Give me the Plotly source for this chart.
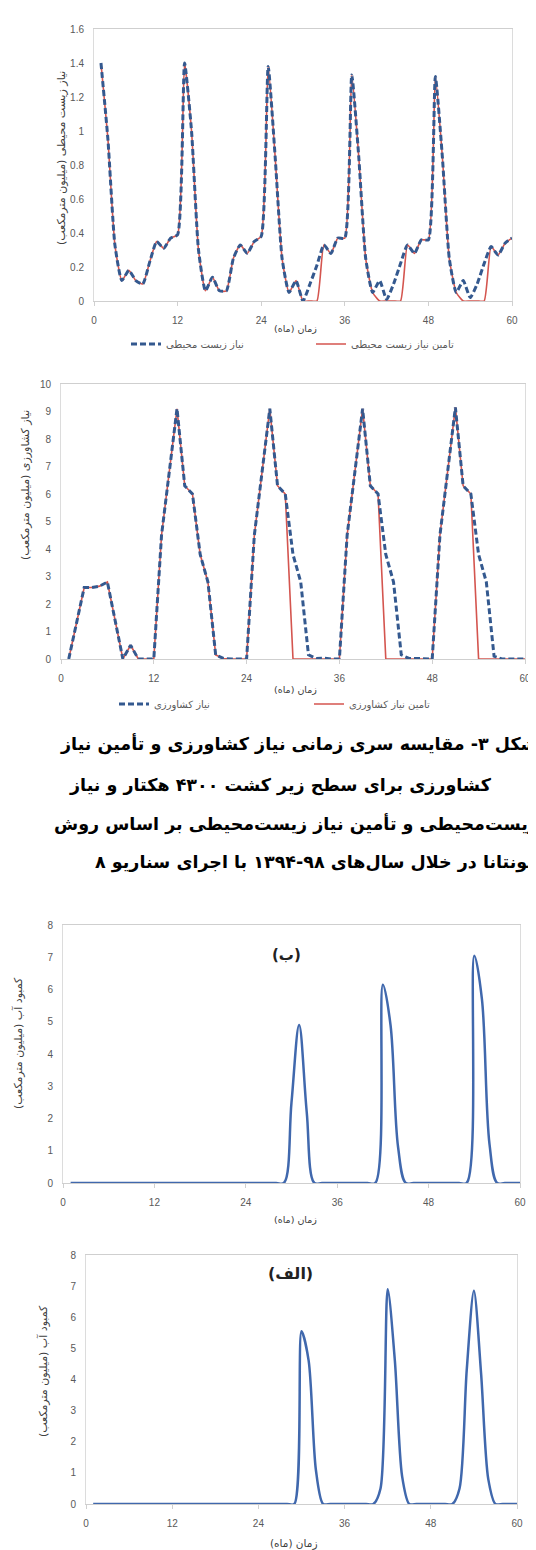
import plotly.graph_objects as go

W, H = 536, 1550

def px(x):
    return x / W

def py(y):
    return 1 - y / H

months = list(range(1, 61))

env_demand = [
    1.40, 0.95, 0.33, 0.12, 0.18, 0.12, 0.10, 0.23, 0.35, 0.31, 0.37, 0.39,
    1.40, 1.00, 0.30, 0.06, 0.14, 0.06, 0.06, 0.25, 0.33, 0.28, 0.35, 0.38,
    1.38, 0.85, 0.25, 0.05, 0.12, 0.00, 0.10, 0.21, 0.33, 0.28, 0.37, 0.37,
    1.33, 0.85, 0.25, 0.05, 0.12, 0.01, 0.10, 0.22, 0.33, 0.28, 0.36, 0.36,
    1.32, 0.85, 0.25, 0.05, 0.12, 0.02, 0.10, 0.22, 0.32, 0.27, 0.34, 0.37,
]
env_supply = [
    1.40, 0.95, 0.33, 0.12, 0.18, 0.12, 0.10, 0.23, 0.35, 0.31, 0.37, 0.39,
    1.40, 1.00, 0.30, 0.06, 0.14, 0.06, 0.06, 0.25, 0.33, 0.28, 0.35, 0.38,
    1.38, 0.85, 0.25, 0.05, 0.12, 0.00, 0.00, 0.00, 0.33, 0.28, 0.37, 0.37,
    1.33, 0.85, 0.25, 0.05, 0.00, 0.00, 0.00, 0.00, 0.33, 0.28, 0.36, 0.36,
    1.32, 0.85, 0.25, 0.05, 0.00, 0.00, 0.00, 0.00, 0.32, 0.27, 0.34, 0.37,
]
agri_demand = [
    0.0, 1.3, 2.6, 2.6, 2.65, 2.8, 1.4, 0.0, 0.5, 0.0, 0.0, 0.0,
    4.5, 6.8, 9.1, 6.3, 6.0, 3.8, 2.8, 0.15, 0.02, 0.0, 0.0, 0.0,
    4.5, 6.8, 9.1, 6.3, 6.0, 3.8, 2.8, 0.15, 0.02, 0.03, 0.0, 0.0,
    4.5, 6.8, 9.1, 6.3, 6.0, 3.8, 2.8, 0.15, 0.02, 0.02, 0.0, 0.0,
    4.5, 6.8, 9.15, 6.3, 6.0, 3.8, 2.8, 0.1, 0.0, 0.0, 0.0, 0.0,
]
agri_supply = [
    0.0, 1.3, 2.6, 2.6, 2.65, 2.8, 1.4, 0.0, 0.5, 0.0, 0.0, 0.0,
    4.5, 6.8, 9.1, 6.3, 6.0, 3.8, 2.8, 0.15, 0.02, 0.0, 0.0, 0.0,
    4.5, 6.8, 9.1, 6.3, 6.0, 0.0, 0.0, 0.0, 0.0, 0.0, 0.0, 0.0,
    4.5, 6.8, 9.1, 6.3, 6.0, 0.0, 0.0, 0.0, 0.0, 0.0, 0.0, 0.0,
    4.5, 6.8, 9.15, 6.3, 6.0, 0.0, 0.0, 0.0, 0.0, 0.0, 0.0, 0.0,
]
deficit_b = [
    0, 0, 0, 0, 0, 0, 0, 0, 0, 0, 0, 0,
    0, 0, 0, 0, 0, 0, 0, 0, 0, 0, 0, 0,
    0, 0, 0, 0, 0, 2.5, 4.9, 2.2, 0, 0, 0, 0,
    0, 0, 0, 0, 0, 6.15, 4.9, 1.1, 0, 0, 0, 0,
    0, 0, 0, 0, 0, 7.05, 5.7, 1.2, 0, 0, 0, 0,
]
deficit_a = [
    0, 0, 0, 0, 0, 0, 0, 0, 0, 0, 0, 0,
    0, 0, 0, 0, 0, 0, 0, 0, 0, 0, 0, 0,
    0, 0, 0, 0, 0, 5.55, 4.6, 1.1, 0, 0, 0, 0,
    0, 0, 0, 0, 0.5, 6.9, 4.6, 0.9, 0, 0, 0, 0,
    0, 0, 0, 0.5, 4.3, 6.85, 4.2, 0.8, 0, 0, 0, 0,
]

x_ticks = [0, 12, 24, 36, 48, 60]
x_title = "زمان (ماه)"
env_names = ["نیاز زیست محیطی", "تامین نیاز زیست محیطی"]
agri_names = ["نیاز کشاورزی", "تامین نیاز کشاورزی"]
y_titles = [
    "نیاز زیست محیطی (میلیون مترمکعب)",
    "نیاز کشاورزی (میلیون مترمکعب)",
    "کمبود آب (میلیون مترمکعب)",
    "کمبود آب (میلیون مترمکعب)",
]
panel_labels = ["(ب)", "(الف)"]
caption_lines = [
    "شکل ۳- مقایسه سری زمانی نیاز کشاورزی و تأمین نیاز",
    "کشاورزی برای سطح زیر کشت ۴۳۰۰ هکتار و نیاز",
    "زیست‌محیطی و تأمین نیاز زیست‌محیطی بر اساس روش",
    "مونتانا در خلال سال‌های ۹۸-۱۳۹۴ با اجرای سناریو ۸",
]

BLUE_D = "#34598f"
RED = "#d4554f"
BLUE = "#4068ad"
FA = "DejaVu Sans"
TICKF = dict(family="Liberation Sans", size=10, color="#595959")

fig = go.Figure()

fig.add_trace(go.Scatter(x=months, y=env_supply, mode="lines", name=env_names[1],
                         line=dict(color=RED, width=1.6, shape="spline", smoothing=0.5),
                         xaxis="x", yaxis="y", legend="legend", legendrank=2))
fig.add_trace(go.Scatter(x=months, y=env_demand, mode="lines", name=env_names[0],
                         line=dict(color=BLUE_D, width=3, dash="6px,3px", shape="spline", smoothing=0.5),
                         xaxis="x", yaxis="y", legend="legend", legendrank=1))
fig.add_trace(go.Scatter(x=months, y=agri_supply, mode="lines", name=agri_names[1],
                         line=dict(color=RED, width=1.6),
                         xaxis="x2", yaxis="y2", legend="legend2", legendrank=2))
fig.add_trace(go.Scatter(x=months, y=agri_demand, mode="lines", name=agri_names[0],
                         line=dict(color=BLUE_D, width=3, dash="6px,3px"),
                         xaxis="x2", yaxis="y2", legend="legend2", legendrank=1))
fig.add_trace(go.Scatter(x=months, y=deficit_b, mode="lines", showlegend=False,
                         line=dict(color=BLUE, width=2.5, shape="spline", smoothing=1.0),
                         xaxis="x3", yaxis="y3"))
fig.add_trace(go.Scatter(x=months, y=deficit_a, mode="lines", showlegend=False,
                         line=dict(color=BLUE, width=2.5, shape="spline", smoothing=0.8),
                         xaxis="x4", yaxis="y4"))

panels = [
    (86, 504, 21, 293, 1.6, 0.2),
    (53, 517, 376, 651, 10, 1),
    (55, 512, 917, 1175, 8, 1),
    (78, 509, 1247, 1496, 8, 1),
]

layout = dict(
    template="none",
    width=W, height=H, margin=dict(l=0, r=0, t=0, b=0, autoexpand=False),
    paper_bgcolor="white", plot_bgcolor="white",
    font=dict(family=FA, color="#404040"),
)
for i, (l, r, t, b, ymax, dt) in enumerate(panels):
    sfx = "" if i == 0 else str(i + 1)
    layout["xaxis" + sfx] = dict(
        domain=[px(l), px(r)], anchor="y" + sfx, range=[0, 60], automargin=False,
        tickmode="array", tickvals=x_ticks, ticks="outside", ticklen=4,
        tickcolor="#d0d0d0", ticklabelstandoff=6,
        showline=True, linecolor="#cfcfcf", linewidth=1, mirror=True,
        showgrid=False, zeroline=False, tickfont=TICKF,
    )
    layout["yaxis" + sfx] = dict(
        domain=[py(b), py(t)], anchor="x" + sfx, range=[0, ymax], automargin=False,
        dtick=dt, tick0=0, ticks="", ticklabelstandoff=7,
        showline=True, linecolor="#dcdcdc", linewidth=1, mirror=True,
        showgrid=False, zeroline=False, tickfont=TICKF,
    )

layout["legend"] = dict(
    orientation="h", x=px(118), y=py(336), xanchor="left", yanchor="middle",
    entrywidth=140, entrywidthmode="pixels",
    font=dict(family=FA, size=10, color="#595959"), bgcolor="rgba(0,0,0,0)",
)
layout["legend2"] = dict(
    orientation="h", x=px(106), y=py(696), xanchor="left", yanchor="middle",
    entrywidth=150, entrywidthmode="pixels",
    font=dict(family=FA, size=10, color="#595959"), bgcolor="rgba(0,0,0,0)",
)
fig.update_layout(**layout)

ann = []
for (xx, yy), fs in zip([(287, 321), (287, 681), (287, 1211), (285, 1535)], [9.5, 9.5, 9.5, 10.5]):
    ann.append(dict(x=px(xx), y=py(yy), xref="paper", yref="paper", text=x_title,
                    xanchor="center", yanchor="middle", showarrow=False,
                    font=dict(family=FA, size=fs, color="#404040")))
for (xx, yy), txt in zip([(53, 150), (17, 477), (10, 1035), (35, 1363)], y_titles):
    ann.append(dict(x=px(xx), y=py(yy), xref="paper", yref="paper", text=txt,
                    xanchor="center", yanchor="middle", textangle=-90, showarrow=False,
                    font=dict(family=FA, size=11, color="#404040")))
ann.append(dict(x=29.3, y=7.07, xref="x3", yref="y3", text="<b>" + panel_labels[0] + "</b>",
                xanchor="center", yanchor="middle",
                showarrow=False, font=dict(family=FA, size=15, color="#222222")))
ann.append(dict(x=28.5, y=7.4, xref="x4", yref="y4", text="<b>" + panel_labels[1] + "</b>",
                xanchor="center", yanchor="middle",
                showarrow=False, font=dict(family=FA, size=16, color="#222222")))
for txt, yy, xx, anc in zip(caption_lines, [736, 777, 816, 854],
                            [px(532), px(272), px(532), px(532)],
                            ["right", "center", "right", "right"]):
    ann.append(dict(x=xx, y=py(yy), xref="paper", yref="paper", text="<b>" + txt + "</b>",
                    xanchor=anc, yanchor="middle", showarrow=False,
                    font=dict(family=FA, size=17.5, color="#000000")))
fig.update_layout(annotations=ann)

fig.write_html("out.html")
